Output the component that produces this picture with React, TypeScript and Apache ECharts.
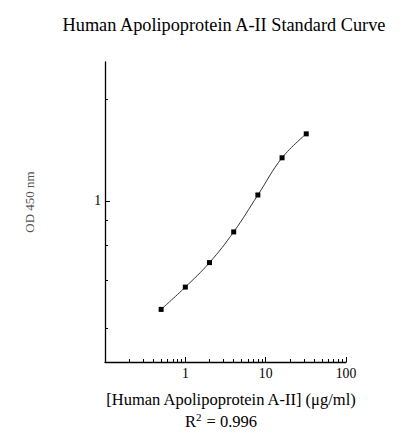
import { useEffect, useRef } from "react";
import * as echarts from "echarts";

// concentration (µg/ml) and OD 450 nm
const concentrations = [0.5, 1, 2, 4, 8, 16, 32];
const odValues = [0.285, 0.369, 0.49, 0.699, 1.072, 1.649, 2.176];

const xMajorTicks = [1, 10, 100];
const xMinorTicks = [0.2, 0.3, 0.4, 0.5, 0.6, 0.7, 0.8, 0.9, 2, 3, 4, 5, 6, 7, 8, 9, 20, 30, 40, 50, 60, 70, 80, 90];
const yMajorTicks = [1];
const yMinorTicks = [0.23, 0.4, 0.6, 0.8, 3.25];

const titleText = "Human Apolipoprotein A-II Standard Curve";
const xName = "[Human Apolipoprotein A-II] (\u03bcg/ml)";
const yName = "OD 450 nm";
const r2Text = "0.996";

const font = "Liberation Serif";

export default function App(): JSX.Element {
  const chartRef = useRef<HTMLDivElement>(null);
  useEffect(() => {
    const chart = echarts.init(chartRef.current, null, { renderer: "svg" });
    const axisText = { fontFamily: font, fontSize: 13.7, color: "#000" };
    const option = {
      animation: false,
      backgroundColor: "#fff",
      grid: { left: 105, top: 62, width: 241, height: 300 },
      xAxis: [
        {
          type: "log",
          logBase: 10,
          min: 0.1,
          max: 100,
          position: "bottom",
          axisLine: { show: true, lineStyle: { color: "#000", width: 1.3 } },
          axisTick: { show: true, inside: true, length: 5, customValues: xMajorTicks, lineStyle: { color: "#000" } },
          axisLabel: { show: true, margin: 4, customValues: xMajorTicks, ...axisText },
          splitLine: { show: false },
        },
        {
          type: "log",
          logBase: 10,
          min: 0.1,
          max: 100,
          position: "bottom",
          axisLine: { show: false },
          axisTick: { show: true, inside: true, length: 3, customValues: xMinorTicks, lineStyle: { color: "#000" } },
          axisLabel: { show: false },
          splitLine: { show: false },
        },
      ],
      yAxis: [
        {
          type: "log",
          logBase: 10,
          min: 0.155,
          max: 5,
          position: "left",
          axisLine: { show: true, lineStyle: { color: "#000", width: 1.3 } },
          axisTick: { show: true, inside: true, length: 5, customValues: yMajorTicks, lineStyle: { color: "#000" } },
          axisLabel: { show: true, margin: 4, customValues: yMajorTicks, ...axisText },
          splitLine: { show: false },
        },
        {
          type: "log",
          logBase: 10,
          min: 0.155,
          max: 5,
          position: "left",
          axisLine: { show: false },
          axisTick: { show: true, inside: true, length: 3, customValues: yMinorTicks, lineStyle: { color: "#000" } },
          axisLabel: { show: false },
          splitLine: { show: false },
        },
      ],
      series: [
        {
          type: "line",
          data: concentrations.map((c, i) => [c, odValues[i]]),
          smooth: 0.4,
          symbol: "rect",
          symbolSize: 5,
          itemStyle: { color: "#000" },
          lineStyle: { color: "#333", width: 1 },
        },
      ],
      graphic: [
        {
          type: "text",
          x: 224,
          y: 25,
          style: { text: titleText, fontFamily: font, fontSize: 18.3, fill: "#000", align: "center", verticalAlign: "middle" },
        },
        {
          type: "text",
          x: 231,
          y: 399,
          style: { text: xName, fontFamily: font, fontSize: 16.5, fill: "#000", align: "center", verticalAlign: "middle" },
        },
        {
          type: "text",
          x: 221,
          y: 421,
          style: {
            text: "R{sup|2} = " + r2Text,
            fontFamily: font,
            fontSize: 16.5,
            fill: "#000",
            align: "center",
            verticalAlign: "middle",
            rich: {
              sup: { fontFamily: font, fontSize: 11, fill: "#000", padding: [0, 1, 9, 0] },
            },
          },
        },
        {
          type: "text",
          x: 29,
          y: 202,
          rotation: Math.PI / 2,
          style: { text: yName, fontFamily: font, fontSize: 13, fill: "#555", align: "center", verticalAlign: "middle" },
        },
      ],
    };
    chart.setOption(option);
    return () => {
      chart.dispose();
    };
  }, []);

  return <div ref={chartRef} style={{ position: "fixed", left: 0, top: 0, width: 404, height: 446 }}></div>;
}
